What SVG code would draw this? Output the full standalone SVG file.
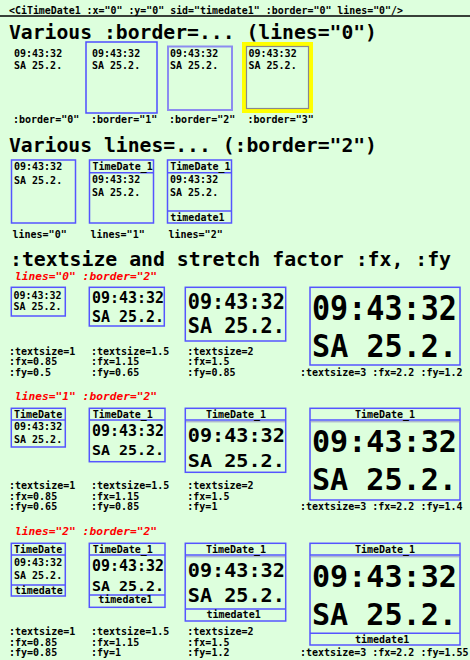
<svg xmlns="http://www.w3.org/2000/svg" width="470" height="660" viewBox="0 0 470 660">
<style>
.t{font-family:"DejaVu Sans Mono","Liberation Mono",monospace;font-weight:bold;fill:#000}
.s{font-size:10px}
.h{font-size:20px}
.red{fill:#ff0000;font-style:italic;font-size:11px}
.box{fill:none;stroke:#5555ff;stroke-width:1.5}
.ln{stroke:#5555ff;stroke-width:1.5}
.ln2{stroke:#9a9ac8;stroke-width:1}
.m{text-anchor:middle}
</style>
<rect x="0" y="0" width="470" height="660" fill="#ddffdd"/>
<g id="header">
<text class="t s" x="9" y="13.5" textLength="394" lengthAdjust="spacingAndGlyphs">&lt;CiTimeDate1 :x="0" :y="0" sid="timedate1" :border="0" lines="0"/&gt;</text>
<line x1="0" y1="16" x2="470" y2="16" stroke="#000" stroke-width="1.6"/>
</g>
<g id="titles">
<text class="t h" x="9" y="38.5" textLength="368" lengthAdjust="spacingAndGlyphs">Various :border=... (lines="0")</text>
<text class="t h" x="9" y="152" textLength="368" lengthAdjust="spacingAndGlyphs">Various lines=... (:border="2")</text>
<text class="t h" x="10" y="266" textLength="441" lengthAdjust="spacingAndGlyphs">:textsize and stretch factor :fx, :fy</text>
<text class="t red" x="15" y="280" textLength="142" lengthAdjust="spacingAndGlyphs">lines="0" :border="2"</text>
<text class="t red" x="15" y="400" textLength="142" lengthAdjust="spacingAndGlyphs">lines="1" :border="2"</text>
<text class="t red" x="15" y="535" textLength="142" lengthAdjust="spacingAndGlyphs">lines="2" :border="2"</text>
</g>
<!-- Section 1 -->
<g id="b0">
<text class="t s" x="14" y="56.5">09:43:32</text>
<text class="t s" x="14" y="69">SA 25.2.</text>
<text class="t s" x="13" y="123">:border="0"</text>
</g>
<g id="b1">
<rect x="86" y="42" width="71" height="71" fill="none" stroke="#4d4dff" stroke-width="1.5"/>
<text class="t s" x="92" y="56.5">09:43:32</text>
<text class="t s" x="92" y="69">SA 25.2.</text>
<text class="t s" x="91" y="123">:border="1"</text>
</g>
<g id="b2">
<rect x="168" y="46.5" width="64" height="63.5" fill="none" stroke="#8c8cf0" stroke-width="2"/>
<text class="t s" x="170" y="56.5">09:43:32</text>
<text class="t s" x="170" y="69">SA 25.2.</text>
<text class="t s" x="169" y="123">:border="2"</text>
</g>
<g id="b3">
<rect x="244" y="44" width="67" height="67" fill="none" stroke="#ffff00" stroke-width="4"/>
<rect x="246.5" y="46.5" width="62" height="62" fill="none" stroke="#8a8a8a" stroke-width="1.2"/>
<text class="t s" x="248.5" y="56.5">09:43:32</text>
<text class="t s" x="248.5" y="69">SA 25.2.</text>
<text class="t s" x="247.5" y="123">:border="3"</text>
</g>
<!-- Section 2 -->
<g id="l0">
<rect class="box" x="11.5" y="160" width="64" height="63"/>
<text class="t s" x="14" y="170">09:43:32</text>
<text class="t s" x="14" y="184">SA 25.2.</text>
<text class="t s" x="12.5" y="237.5">lines="0"</text>
</g>
<g id="l1">
<rect class="box" x="89.5" y="160" width="64" height="63"/>
<line class="ln" x1="89.5" y1="172.7" x2="153.5" y2="172.7"/>
<text class="t s" x="92.5" y="170">TimeDate_1</text>
<text class="t s" x="92" y="183">09:43:32</text>
<text class="t s" x="92" y="195.5">SA 25.2.</text>
<text class="t s" x="90.5" y="237.5">lines="1"</text>
</g>
<g id="l2">
<rect class="box" x="167.5" y="160" width="64" height="63"/>
<line class="ln" x1="167.5" y1="172.7" x2="231.5" y2="172.7"/>
<line class="ln" x1="167.5" y1="211" x2="231.5" y2="211"/>
<text class="t s" x="170.3" y="170">TimeDate_1</text>
<text class="t s" x="170" y="183">09:43:32</text>
<text class="t s" x="170" y="195.5">SA 25.2.</text>
<text class="t s" x="170.3" y="221">timedate1</text>
<text class="t s" x="168.5" y="237.5">lines="2"</text>
</g>
<!-- Section 3 row 1 -->
<g id="r1a">
<rect class="box" x="11.3" y="287.3" width="54" height="28.7"/>
<text class="t s" x="13.5" y="299" textLength="48" lengthAdjust="spacingAndGlyphs">09:43:32</text>
<text class="t s" x="13.5" y="310" textLength="48" lengthAdjust="spacingAndGlyphs">SA 25.2.</text>
<text class="t s" x="9" y="354.5">:textsize=1</text>
<text class="t s" x="9" y="365">:fx=0.85</text>
<text class="t s" x="9" y="375.5">:fy=0.5</text>
</g>
<g id="r1b">
<rect class="box" x="89.3" y="287.3" width="75" height="38.7"/>
<text class="t" style="font-size:15px" x="92" y="303.3" textLength="72" lengthAdjust="spacingAndGlyphs">09:43:32</text>
<text class="t" style="font-size:15px" x="92" y="322.3" textLength="72" lengthAdjust="spacingAndGlyphs">SA 25.2.</text>
<text class="t s" x="91" y="354.5">:textsize=1.5</text>
<text class="t s" x="91" y="365">:fx=1.15</text>
<text class="t s" x="91" y="375.5">:fy=0.65</text>
</g>
<g id="r1c">
<rect class="box" x="185.3" y="287.3" width="100.4" height="53.7"/>
<text class="t" style="font-size:21px" x="187.8" y="309" textLength="97" lengthAdjust="spacingAndGlyphs">09:43:32</text>
<text class="t" style="font-size:21px" x="187.8" y="333.3" textLength="97" lengthAdjust="spacingAndGlyphs">SA 25.2.</text>
<text class="t s" x="187.3" y="354.5">:textsize=2</text>
<text class="t s" x="187.3" y="365">:fx=1.5</text>
<text class="t s" x="187.3" y="375.5">:fy=0.85</text>
</g>
<g id="r1d">
<rect class="box" x="310" y="287.3" width="150" height="77.7"/>
<text class="t" style="font-size:33px" x="312" y="320" textLength="145" lengthAdjust="spacingAndGlyphs">09:43:32</text>
<text class="t" style="font-size:32px" x="312" y="356.7" textLength="145" lengthAdjust="spacingAndGlyphs">SA 25.2.</text>
<text class="t s" x="300" y="376">:textsize=3 :fx=2.2 :fy=1.2</text>
</g>
<!-- Section 3 row 2 -->
<g id="r2a">
<rect class="box" x="11.3" y="408.3" width="54" height="38.7"/>
<line class="ln" x1="11.3" y1="420" x2="65.3" y2="420"/>
<text class="t s" x="14" y="417.7">TimeDate</text>
<text class="t s" x="14" y="430">09:43:32</text>
<text class="t s" x="14" y="442.7">SA 25.2.</text>
<text class="t s" x="9" y="489">:textsize=1</text>
<text class="t s" x="9" y="499.5">:fx=0.85</text>
<text class="t s" x="9" y="510">:fy=0.65</text>
</g>
<g id="r2b">
<rect class="box" x="89.3" y="408.3" width="75.7" height="53.4"/>
<line class="ln" x1="89.3" y1="420" x2="165" y2="420"/>
<text class="t s" x="92.7" y="417.7">TimeDate_1</text>
<text class="t" style="font-size:15px" x="92" y="436" textLength="72" lengthAdjust="spacingAndGlyphs">09:43:32</text>
<text class="t" style="font-size:14px" x="92" y="455" textLength="72" lengthAdjust="spacingAndGlyphs">SA 25.2.</text>
<text class="t s" x="91" y="489">:textsize=1.5</text>
<text class="t s" x="91" y="499.5">:fx=1.15</text>
<text class="t s" x="91" y="510">:fy=0.85</text>
</g>
<g id="r2c">
<rect class="box" x="185.3" y="408.3" width="100.4" height="64"/>
<line class="ln" x1="185.3" y1="420" x2="285.7" y2="420"/>
<line class="ln2" x1="186" y1="421.8" x2="285" y2="421.8"/>
<text class="t s m" x="236" y="417.7">TimeDate_1</text>
<text class="t" style="font-size:19.2px" x="187.8" y="441.7" textLength="97" lengthAdjust="spacingAndGlyphs">09:43:32</text>
<text class="t" style="font-size:18.5px" x="187.8" y="467.3" textLength="97" lengthAdjust="spacingAndGlyphs">SA 25.2.</text>
<text class="t s" x="187.3" y="489">:textsize=2</text>
<text class="t s" x="187.3" y="499.5">:fx=1.5</text>
<text class="t s" x="187.3" y="510">:fy=1</text>
</g>
<g id="r2d">
<rect class="box" x="310" y="408.3" width="150" height="91.7"/>
<line class="ln" x1="310" y1="420" x2="460" y2="420"/>
<line class="ln2" x1="310.7" y1="421.8" x2="459.3" y2="421.8"/>
<text class="t s m" x="385" y="417.7">TimeDate_1</text>
<text class="t" style="font-size:30.7px" x="312" y="451.7" textLength="145" lengthAdjust="spacingAndGlyphs">09:43:32</text>
<text class="t" style="font-size:30px" x="312" y="490.3" textLength="145" lengthAdjust="spacingAndGlyphs">SA 25.2.</text>
<text class="t s" x="300" y="510">:textsize=3 :fx=2.2 :fy=1.4</text>
</g>
<!-- Section 3 row 3 -->
<g id="r3a">
<rect class="box" x="11.3" y="543.3" width="54" height="52.7"/>
<line class="ln" x1="11.3" y1="555" x2="65.3" y2="555"/>
<line class="ln" x1="11.3" y1="585" x2="65.3" y2="585"/>
<text class="t s" x="14" y="552.7">TimeDate</text>
<text class="t s" x="14" y="566">09:43:32</text>
<text class="t s" x="14" y="579.3">SA 25.2.</text>
<text class="t s" x="14.7" y="594">timedate</text>
<text class="t s" x="9" y="635.3">:textsize=1</text>
<text class="t s" x="9" y="645.8">:fx=0.85</text>
<text class="t s" x="9" y="656.3">:fy=0.85</text>
</g>
<g id="r3b">
<rect class="box" x="89.3" y="543.3" width="75.7" height="64"/>
<line class="ln" x1="89.3" y1="555" x2="165" y2="555"/>
<line class="ln" x1="89.3" y1="595" x2="165" y2="595"/>
<text class="t s" x="92.7" y="552.7">TimeDate_1</text>
<text class="t" style="font-size:15px" x="92" y="571" textLength="72" lengthAdjust="spacingAndGlyphs">09:43:32</text>
<text class="t" style="font-size:14.5px" x="92" y="590.7" textLength="72" lengthAdjust="spacingAndGlyphs">SA 25.2.</text>
<text class="t s" x="98.3" y="603.3">timedate1</text>
<text class="t s" x="91" y="635.3">:textsize=1.5</text>
<text class="t s" x="91" y="645.8">:fx=1.15</text>
<text class="t s" x="91" y="656.3">:fy=1</text>
</g>
<g id="r3c">
<rect class="box" x="185.3" y="543.3" width="100.4" height="77.7"/>
<line class="ln" x1="185.3" y1="555" x2="285.7" y2="555"/>
<line class="ln2" x1="186" y1="556.8" x2="285" y2="556.8"/>
<line class="ln" x1="185.3" y1="609" x2="285.7" y2="609"/>
<text class="t s m" x="236" y="552.7">TimeDate_1</text>
<text class="t" style="font-size:19.2px" x="187.8" y="576.7" textLength="97" lengthAdjust="spacingAndGlyphs">09:43:32</text>
<text class="t" style="font-size:19.2px" x="187.8" y="602.3" textLength="97" lengthAdjust="spacingAndGlyphs">SA 25.2.</text>
<text class="t s" x="206.5" y="618.3">timedate1</text>
<text class="t s" x="187.3" y="635.3">:textsize=2</text>
<text class="t s" x="187.3" y="645.8">:fx=1.5</text>
<text class="t s" x="187.3" y="656.3">:fy=1.2</text>
</g>
<g id="r3d">
<rect class="box" x="310" y="543.3" width="150" height="101.7"/>
<line class="ln" x1="310" y1="555" x2="460" y2="555"/>
<line class="ln2" x1="310.7" y1="556.8" x2="459.3" y2="556.8"/>
<line class="ln" x1="310" y1="633.3" x2="460" y2="633.3"/>
<text class="t s m" x="385" y="552.7">TimeDate_1</text>
<text class="t" style="font-size:30.7px" x="312" y="586.7" textLength="145" lengthAdjust="spacingAndGlyphs">09:43:32</text>
<text class="t" style="font-size:30px" x="312" y="625" textLength="145" lengthAdjust="spacingAndGlyphs">SA 25.2.</text>
<text class="t s" x="355" y="642.7">timedate1</text>
<text class="t s" x="300" y="656">:textsize=3 :fx=2.2 :fy=1.55</text>
</g>
</svg>
